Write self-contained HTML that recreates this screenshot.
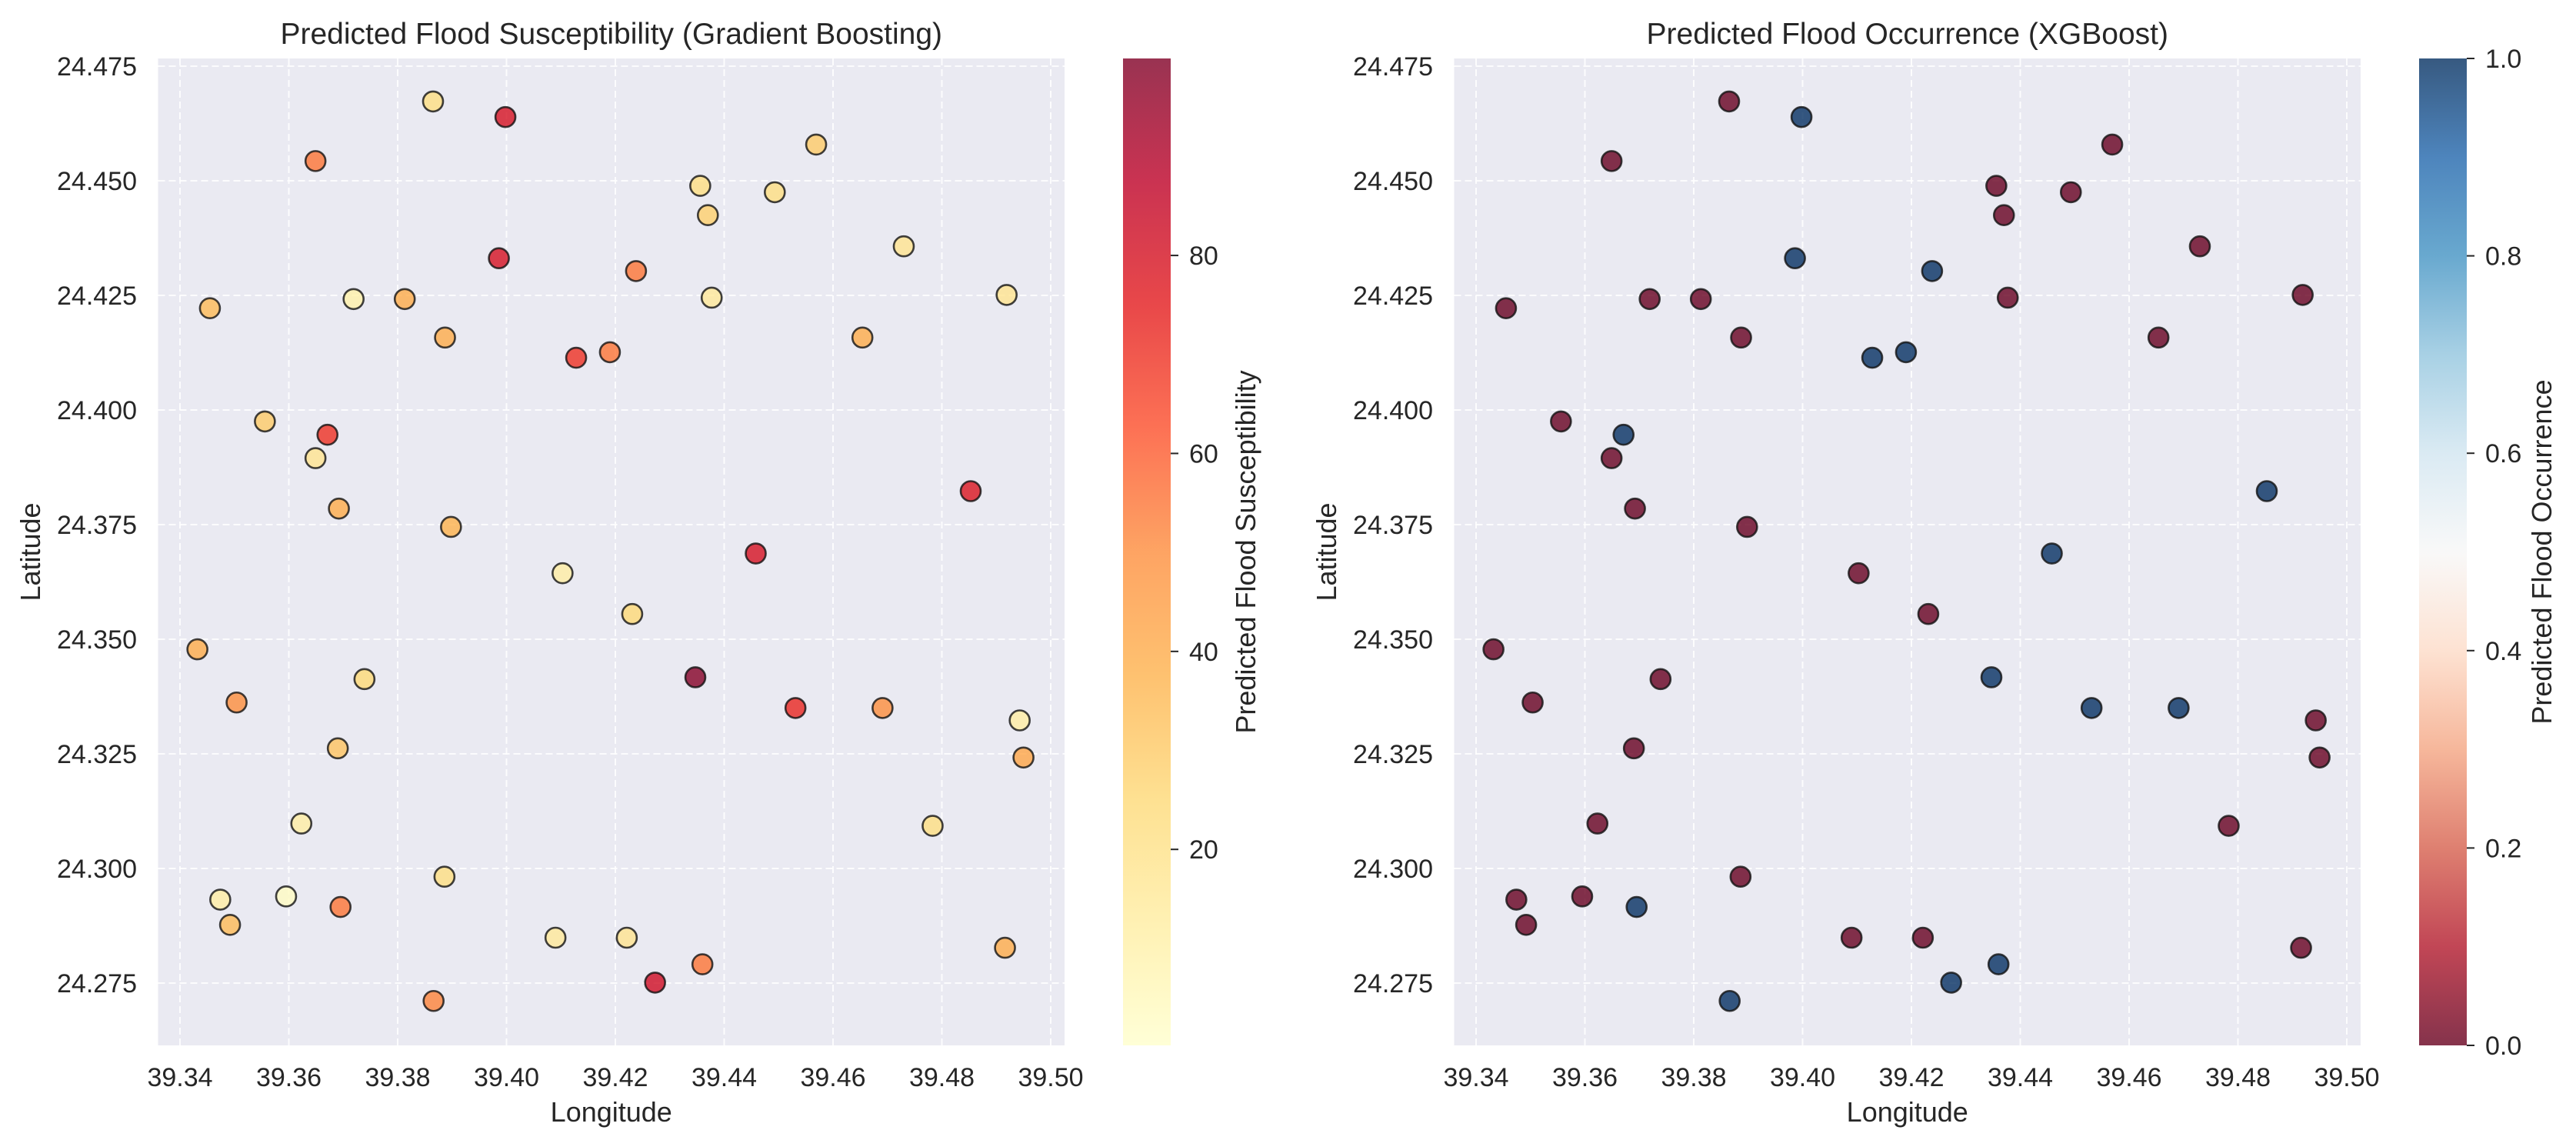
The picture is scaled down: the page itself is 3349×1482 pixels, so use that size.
<!DOCTYPE html>
<html><head><meta charset="utf-8">
<style>
html,body{margin:0;padding:0;background:#fff;}
svg{display:block;font-family:"Liberation Sans",Arial,sans-serif;}
</style></head>
<body>
<svg id="chart" width="3349" height="1482" viewBox="0 0 3349 1482" xmlns="http://www.w3.org/2000/svg">
<defs>
<linearGradient id="gYlOrRd" x1="0" y1="1" x2="0" y2="0">
<stop offset="0" stop-color="#ffffcc"/><stop offset="0.125" stop-color="#ffeda0"/><stop offset="0.25" stop-color="#fed976"/><stop offset="0.375" stop-color="#feb24c"/><stop offset="0.5" stop-color="#fd8d3c"/><stop offset="0.625" stop-color="#fc4e2a"/><stop offset="0.75" stop-color="#e31a1c"/><stop offset="0.875" stop-color="#bd0026"/><stop offset="1" stop-color="#800026"/>
</linearGradient>
<linearGradient id="gRdBu" x1="0" y1="1" x2="0" y2="0">
<stop offset="0" stop-color="#67001f"/><stop offset="0.1" stop-color="#b2182b"/><stop offset="0.2" stop-color="#d6604d"/><stop offset="0.3" stop-color="#f4a582"/><stop offset="0.4" stop-color="#fddbc7"/><stop offset="0.5" stop-color="#f7f7f7"/><stop offset="0.6" stop-color="#d1e5f0"/><stop offset="0.7" stop-color="#92c5de"/><stop offset="0.8" stop-color="#4393c3"/><stop offset="0.9" stop-color="#2166ac"/><stop offset="1" stop-color="#053061"/>
</linearGradient>
</defs>
</svg>
<script>
const lons = [39.3865,39.3998,39.3649,39.4569,39.4356,39.4493,39.4370,39.4730,39.3986,39.4238,39.3455,39.3719,39.3813,39.4377,39.4919,39.3887,39.4654,39.4128,39.4190,39.3556,39.3671,39.3649,39.3692,39.3898,39.4853,39.4458,39.4103,39.4231,39.3432,39.3739,39.4347,39.3504,39.4531,39.4691,39.4943,39.4950,39.3690,39.3623,39.4783,39.3886,39.3474,39.3595,39.3695,39.3492,39.4090,39.4221,39.4916,39.4360,39.4273,39.3866];
const lats = [24.4673,24.4639,24.4543,24.4579,24.4489,24.4475,24.4425,24.4357,24.4331,24.4303,24.4222,24.4242,24.4242,24.4245,24.4251,24.4158,24.4158,24.4114,24.4126,24.3975,24.3946,24.3895,24.3785,24.3745,24.3823,24.3687,24.3644,24.3555,24.3478,24.3413,24.3417,24.3362,24.3350,24.3350,24.3323,24.3242,24.3262,24.3098,24.3093,24.2982,24.2932,24.2939,24.2916,24.2877,24.2849,24.2849,24.2827,24.2791,24.2751,24.2711];
const susceptibility = [22,80,55,30,22,22,28,18,80,55,35,10,40,15,18,40,40,70,55,30,70,18,40,38,78,80,12,25,40,25,99,50,72,50,12,42,32,12,22,22,12,3,55,35,15,18,40,55,82,52];
const occurrence = [0,1,0,0,0,0,0,0,1,1,0,0,0,0,0,0,0,1,1,0,1,0,0,0,1,1,0,0,0,0,1,0,1,1,0,0,0,0,0,0,0,0,1,0,0,0,0,1,1,1];
const xTicks = [39.34,39.36,39.38,39.40,39.42,39.44,39.46,39.48,39.50];
const yTicks = [24.275,24.300,24.325,24.350,24.375,24.400,24.425,24.450,24.475];
const cbTicksLeft = [20,40,60,80];
const cbTicksRight = [0.0,0.2,0.4,0.6,0.8,1.0];

const NS = "http://www.w3.org/2000/svg";
const svg = document.getElementById('chart');
function el(tag, attrs, parent){ const e=document.createElementNS(NS,tag); for(const k in attrs) e.setAttribute(k,attrs[k]); (parent||svg).appendChild(e); return e; }

const YlOrRd=[[255,255,204],[255,237,160],[254,217,118],[254,178,76],[253,141,60],[252,78,42],[227,26,28],[189,0,38],[128,0,38]];
const RdBu=[[103,0,31],[178,24,43],[214,96,77],[244,165,130],[253,219,199],[247,247,247],[209,229,240],[146,197,222],[67,147,195],[33,102,172],[5,48,97]];
function cmap(stops,t){ t=Math.max(0,Math.min(1,t)); const n=stops.length-1; const i=Math.min(n-1,Math.floor(t*n)); const f=t*n-i; const a=stops[i],b=stops[i+1]; return 'rgb('+a.map((v,k)=>Math.round(v+(b[k]-v)*f)).join(',')+')'; }

const Y0=86, YPX=149/0.025;
function ys(lat){ return Y0+(24.475-lat)*YPX; }
const XPX=141.5/0.02;
const TOP=76, BOT=1359;

function panel(off, title, values, vmin, vmax, stops, cbGrad, cbTicks, cbFmt, cbLabel, pname, cbname){
  const L=205.5+off, R=1384+off, X0=234+off;
  const xs = lon => X0+(lon-39.34)*XPX;
  const g=el('g',{});
  
  
  const bg=el('rect',{x:L,y:TOP,width:R-L,height:BOT-TOP,fill:'#eaeaf2'},g);
  
  
  xTicks.forEach(t=>{
    const x=xs(t);
    const gl=el('line',{x1:x,x2:x,y1:TOP,y2:BOT,stroke:'#fff','stroke-width':2,'stroke-dasharray':'9,5',opacity:0.9},g);
    
    
    const tl=el('text',{x:x,y:1412,'text-anchor':'middle','font-size':34,fill:'#262626'},g);
    tl.textContent=t.toFixed(2);
    
    
  });
  yTicks.forEach(t=>{
    const y=ys(t);
    const gl=el('line',{x1:L,x2:R,y1:y,y2:y,stroke:'#fff','stroke-width':2,'stroke-dasharray':'9,5',opacity:0.9},g);
    
    
    const tl=el('text',{x:178+off,y:y+12,'text-anchor':'end','font-size':34,fill:'#262626'},g);
    tl.textContent=t.toFixed(3);
    
    
  });
  lons.forEach((lon,i)=>{
    const c=el('circle',{cx:xs(lon),cy:ys(lats[i]),r:13,fill:cmap(stops,(values[i]-vmin)/(vmax-vmin)),'fill-opacity':0.8,stroke:'#111','stroke-opacity':0.8,'stroke-width':2.6},g);
    
    
  });
  const tt=el('text',{x:(L+R)/2,y:57,'text-anchor':'middle','font-size':39,fill:'#262626'},g);
  tt.textContent=title;
  
  
  const xl=el('text',{x:(L+R)/2,y:1458,'text-anchor':'middle','font-size':36,fill:'#262626'},g);
  xl.textContent='Longitude';
  
  
  const yl=el('text',{x:0,y:0,'text-anchor':'middle','font-size':36,fill:'#262626',transform:'translate('+(52+off)+','+((TOP+BOT)/2)+') rotate(-90)'},g);
  yl.textContent='Latitude';
  
  
  const CL=1460+off, CW=62;
  const cb=el('g',{},g);
  
  
  el('rect',{x:CL,y:TOP,width:CW,height:BOT-TOP,fill:'url(#'+cbGrad+')',opacity:0.8},cb);
  const cy = v => BOT-(v-vmin)/(vmax-vmin)*(BOT-TOP);
  cbTicks.forEach(t=>{
    const y=cy(t);
    el('line',{x1:CL+CW,x2:CL+CW+10,y1:y,y2:y,stroke:'#262626','stroke-width':2},cb);
    const tl=el('text',{x:CL+CW+24,y:y+12,'font-size':34,fill:'#262626'},cb);
    tl.textContent=cbFmt(t);
    
    
  });
  const cl=el('text',{x:0,y:0,'text-anchor':'middle','font-size':36,fill:'#262626',transform:'translate('+(1632+off)+','+((TOP+BOT)/2)+') rotate(-90)'},cb);
  cl.textContent=cbLabel;
  
  
}
panel(0,'Predicted Flood Susceptibility (Gradient Boosting)',susceptibility,0.2,99.9,YlOrRd,'gYlOrRd',cbTicksLeft,v=>String(v),'Predicted Flood Susceptibility','susceptibility-panel','susceptibility-colorbar');
panel(1685,'Predicted Flood Occurrence (XGBoost)',occurrence,0,1,RdBu,'gRdBu',cbTicksRight,v=>v.toFixed(1),'Predicted Flood Occurrence','occurrence-panel','occurrence-colorbar');
</script>
</body></html>
